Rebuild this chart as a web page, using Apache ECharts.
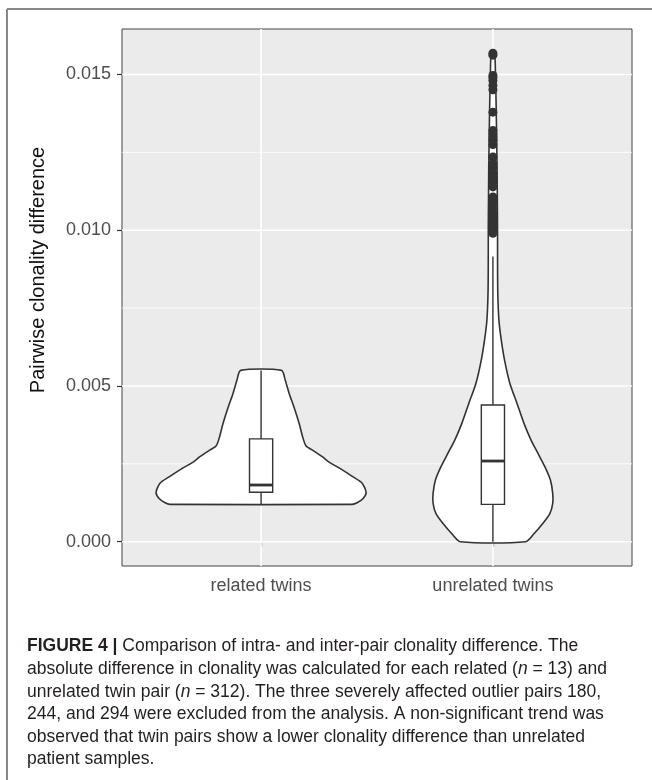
<!DOCTYPE html>
<html><head><meta charset="utf-8">
<script src="https://cdn.jsdelivr.net/npm/echarts@6/dist/echarts.min.js"></script>
<style>html,body{margin:0;padding:0;background:#fff}#c{width:652px;height:780px}</style>
</head><body><div id="c"></div>
<script>
// ---------- data ----------
const categories = ['related twins', 'unrelated twins'];
const yTickValues = [0, 0.005, 0.010, 0.015];
const yMinorValues = [0.0025, 0.0075, 0.0125];
const yTickLabels = ['0.000', '0.005', '0.010', '0.015'];
const yTitle = 'Pairwise clonality difference';

// violin outline: y value and half-width (in category units)
const relatedViolinY  = [0.0012, 0.00125, 0.00139, 0.00158, 0.00188, 0.00209, 0.00233, 0.00257, 0.00273, 0.00295, 0.00307, 0.00337, 0.0038, 0.00434, 0.00476, 0.00519, 0.0055];
const relatedViolinHW = [0.393, 0.414, 0.440, 0.453, 0.436, 0.395, 0.345, 0.290, 0.264, 0.220, 0.194, 0.179, 0.164, 0.141, 0.121, 0.104, 0.088];
const unrelatedViolinY  = [0, 0.00027, 0.00059, 0.00091, 0.00123, 0.00155, 0.00198, 0.00241, 0.00284, 0.00327, 0.0038, 0.00444, 0.00509, 0.00584, 0.00648, 0.0071, 0.008, 0.009, 0.010, 0.011, 0.012, 0.013, 0.014, 0.015, 0.01568];
const unrelatedViolinHW = [0.141, 0.179, 0.216, 0.246, 0.258, 0.258, 0.248, 0.224, 0.194, 0.164, 0.134, 0.104, 0.073, 0.050, 0.036, 0.026, 0.021, 0.020, 0.020, 0.019, 0.018, 0.016, 0.014, 0.011, 0.007];

// box stats: [lower whisker, Q1, median, Q3, upper whisker]
const relatedBox   = [0.0012, 0.00159, 0.00182, 0.0033, 0.0055];
const unrelatedBox = [0, 0.0012, 0.00259, 0.00439, 0.00916];

const unrelatedOutliers = [0.01568, 0.01562, 0.01497, 0.01490, 0.01481, 0.01465, 0.01451, 0.01379, 0.01320, 0.01310, 0.01299, 0.01289, 0.01275, 0.01235, 0.01214, 0.01200, 0.01182, 0.01168, 0.01155, 0.01139, 0.01107, 0.01097, 0.01086, 0.01070, 0.01054, 0.01040, 0.01033, 0.01020, 0.01011, 0.00998, 0.0099];

const captionLines = [
  '{b|FIGURE 4 |} Comparison of intra- and inter-pair clonality difference. The',
  'absolute difference in clonality was calculated for each related ({i|n} = 13) and',
  'unrelated twin pair ({i|n} = 312). The three severely affected outlier pairs 180,',
  '244, and 294 were excluded from the analysis. A non-significant trend was',
  'observed that twin pairs show a lower clonality difference than unrelated',
  'patient samples.'
];

// ---------- chart ----------
const violins = [
  {x: 1, y: relatedViolinY, hw: relatedViolinHW},
  {x: 2, y: unrelatedViolinY, hw: unrelatedViolinHW}
];
const boxes = [{x: 1, s: relatedBox}, {x: 2, s: unrelatedBox}];
const FONT = '"Liberation Sans", Arial, sans-serif';
const CAP = 17.5;

const chart = echarts.init(document.getElementById('c'), null, {renderer: 'canvas'});

function gridRender(params, api) {
  const children = [];
  const x0 = api.coord([0.4, 0])[0], x1 = api.coord([2.6, 0])[0];
  const y0 = api.coord([1, -0.00078])[1], y1 = api.coord([1, 0.01646])[1];
  yMinorValues.forEach(v => {
    const y = api.coord([1, v])[1];
    children.push({type: 'line', shape: {x1: x0, y1: y, x2: x1, y2: y}, style: {stroke: '#fff', lineWidth: 0.8}});
  });
  yTickValues.forEach(v => {
    const y = api.coord([1, v])[1];
    children.push({type: 'line', shape: {x1: x0, y1: y, x2: x1, y2: y}, style: {stroke: '#fff', lineWidth: 1.6}});
  });
  [1, 2].forEach(v => {
    const x = api.coord([v, 0])[0];
    children.push({type: 'line', shape: {x1: x, y1: y0, x2: x, y2: y1}, style: {stroke: '#fff', lineWidth: 1.6}});
  });
  return {type: 'group', children};
}

function violinRender(params, api) {
  const v = violins[params.dataIndex];
  const left = [], right = [];
  for (let k = 0; k < v.y.length; k++) {
    left.push(api.coord([v.x - v.hw[k], v.y[k]]));
    right.push(api.coord([v.x + v.hw[k], v.y[k]]));
  }
  const pts = left.concat(right.reverse());
  return {type: 'polygon', shape: {points: pts, smooth: 0.25},
    style: {fill: '#fff', stroke: '#333', lineWidth: 1.6}};
}

function boxRender(params, api) {
  const b = boxes[params.dataIndex];
  const s = b.s, hw = 0.05;
  const lo = api.coord([b.x, s[0]]), q1 = api.coord([b.x, s[1]]), md = api.coord([b.x, s[2]]),
        q3 = api.coord([b.x, s[3]]), hi = api.coord([b.x, s[4]]);
  const xl = api.coord([b.x - hw, 0])[0], xr = api.coord([b.x + hw, 0])[0];
  return {type: 'group', children: [
    {type: 'line', shape: {x1: lo[0], y1: lo[1], x2: q1[0], y2: q1[1]}, style: {stroke: '#333', lineWidth: 1.4}},
    {type: 'line', shape: {x1: q3[0], y1: q3[1], x2: hi[0], y2: hi[1]}, style: {stroke: '#333', lineWidth: 1.4}},
    {type: 'rect', shape: {x: xl, y: q3[1], width: xr - xl, height: q1[1] - q3[1]}, style: {fill: '#fff', stroke: '#333', lineWidth: 1.4}},
    {type: 'line', shape: {x1: xl, y1: md[1], x2: xr, y2: md[1]}, style: {stroke: '#333', lineWidth: 2.8}}
  ]};
}

const graphics = [
  {type: 'line', shape: {x1: 7, y1: 9, x2: 652, y2: 9}, style: {stroke: '#888', lineWidth: 2}, z: 100},
  {type: 'line', shape: {x1: 7, y1: 9, x2: 7, y2: 780}, style: {stroke: '#888', lineWidth: 2}, z: 100},
  {type: 'text', x: 38, y: 270, rotation: Math.PI / 2, z: 100,
    style: {text: yTitle, fill: '#111', font: '20px ' + FONT, align: 'center', verticalAlign: 'middle'}}
];
const capTop = 647.5, capStep = 22.6;
captionLines.forEach((t, i) => {
  graphics.push({type: 'text', left: 27, top: capTop + i * capStep - 10, z: 100,
    style: {text: t, fill: '#231f20', font: CAP + 'px ' + FONT,
      rich: {b: {fontWeight: 'bold', fontSize: CAP, fontFamily: FONT, fill: '#231f20'},
             i: {fontStyle: 'italic', fontSize: CAP, fontFamily: FONT, fill: '#231f20'}}}});
});

chart.setOption({
  animation: false,
  backgroundColor: '#fff',
  grid: {left: 122, top: 29, width: 510, height: 537, show: true, backgroundColor: '#EBEBEB', borderColor: '#444', borderWidth: 1},
  xAxis: {
    type: 'value', min: 0.4, max: 2.6,
    axisLine: {show: false},
    splitLine: {show: false},
    axisTick: {show: true, length: 5, customValues: [1, 2], lineStyle: {color: '#333', width: 1.2}},
    axisLabel: {customValues: [1, 2], margin: 11, color: '#4d4d4d', fontSize: 18, fontFamily: FONT,
      formatter: v => categories[Math.round(v) - 1]}
  },
  yAxis: {
    type: 'value', min: -0.00078, max: 0.01646,
    axisLine: {show: false},
    splitLine: {show: false},
    axisTick: {show: true, length: 5, customValues: yTickValues, lineStyle: {color: '#333', width: 1.2}},
    axisLabel: {customValues: yTickValues, margin: 11, color: '#4d4d4d', fontSize: 18, fontFamily: FONT,
      formatter: v => yTickLabels[yTickValues.findIndex(t => Math.abs(t - v) < 1e-9)]}
  },
  graphic: graphics,
  series: [
    {type: 'custom', renderItem: gridRender, data: [[1, 0]], z: 1, silent: true, clip: true},
    {type: 'custom', renderItem: violinRender, data: [[1, 0.003], [2, 0.003]], z: 2, clip: true},
    {type: 'custom', renderItem: boxRender, data: [[1, 0.003], [2, 0.003]], z: 3, clip: true},
    {type: 'scatter', data: unrelatedOutliers.map(v => [2, v]), symbolSize: 9,
      itemStyle: {color: '#333', opacity: 1}, z: 4}
  ]
});
</script></body></html>
